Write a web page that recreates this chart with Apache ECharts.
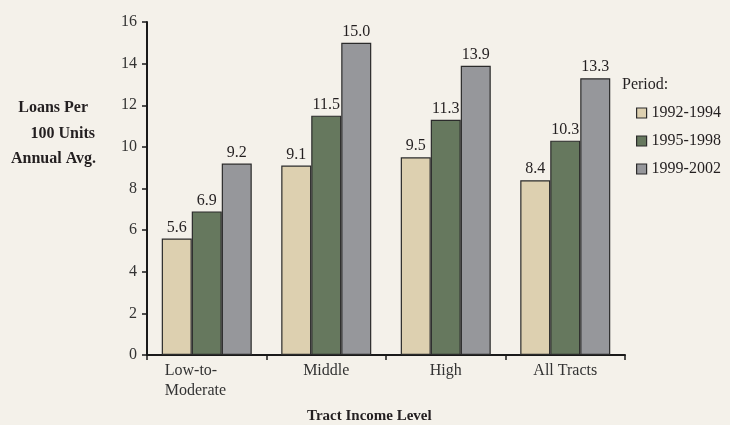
<!DOCTYPE html>
<html>
<head>
<meta charset="utf-8">
<script src="https://cdn.jsdelivr.net/npm/echarts@6/dist/echarts.min.js"></script>
<style>
  html, body { margin: 0; padding: 0; background: #f4f1ea; }
  #main { width: 730px; height: 425px; }
</style>
</head>
<body>
<div id="main"></div>
<script>
var categories = ['Low-to-\nModerate', 'Middle', 'High', 'All Tracts'];
var periods = ['1992-1994', '1995-1998', '1999-2002'];
var p1992 = [5.6, 9.1, 9.5, 8.4];
var p1995 = [6.9, 11.5, 11.3, 10.3];
var p1999 = [9.2, 15.0, 13.9, 13.3];
var colors = ['#ddd0b0', '#66785e', '#96979b'];

var font = '"Liberation Serif", "DejaVu Serif", serif';
var ink = '#231f20';

var chart = echarts.init(document.getElementById('main'), null, { renderer: 'canvas' });

function bar(name, data, color) {
  return {
    name: name,
    type: 'bar',
    data: data,
    barWidth: 30,
    barGap: '0%',
    itemStyle: { color: color, borderColor: '#2b2b2b', borderWidth: 1.2 },
    label: {
      show: true,
      position: 'top',
      distance: 3,
      formatter: function (p) { return p.value.toFixed(1); },
      fontFamily: font,
      fontSize: 16,
      color: ink
    }
  };
}

// y axis title, one line each (right edges)
function yTitle(text, right, top) {
  return {
    type: 'text', right: right, top: top,
    style: { text: text, font: 'bold 16px ' + font, fill: ink }
  };
}

var option = {
  backgroundColor: '#f4f1ea',
  animation: false,
  grid: { left: 147, right: 105, top: 22, bottom: 70 },
  legend: {
    orient: 'vertical',
    left: 631,
    top: 99,
    itemWidth: 10,
    itemHeight: 10,
    itemGap: 10,
    icon: 'rect',
    data: periods,
    textStyle: { fontFamily: font, fontSize: 16, color: ink, lineHeight: 18 },
    itemStyle: { borderColor: '#2b2b2b', borderWidth: 1.2 }
  },
  graphic: [
    {
      type: 'text', left: 622, top: 77,
      style: { text: 'Period:', font: '16px ' + font, fill: ink }
    },
    yTitle('Loans Per', 642, 100),
    yTitle('100 Units', 635, 126),
    yTitle('Annual Avg.', 634, 151),
    {
      type: 'text', left: 307, top: 409,
      style: { text: 'Tract Income Level', font: 'bold 15px ' + font, fill: ink }
    }
  ],
  xAxis: {
    type: 'category',
    data: categories,
    axisLine: { lineStyle: { color: '#1a1a1a', width: 2 } },
    axisTick: { show: true, length: 5, lineStyle: { color: '#1a1a1a', width: 1.5 } },
    axisLabel: {
      fontFamily: font, fontSize: 16, color: '#333', margin: 6, lineHeight: 20,
      formatter: function (v) {
        if (v.indexOf('\n') < 0) return v;
        return v.split('\n').map(function (s) { return '{l|' + s + '}'; }).join('\n');
      },
      rich: {
        l: { fontFamily: font, fontSize: 16, color: '#333', lineHeight: 20, width: 66, align: 'left', padding: [0, 18, 0, 0] }
      }
    }
  },
  yAxis: {
    type: 'value',
    min: 0, max: 16, interval: 2,
    splitLine: { show: false },
    axisLine: { show: true, lineStyle: { color: '#1a1a1a', width: 2 } },
    axisTick: { show: true, length: 5, lineStyle: { color: '#1a1a1a', width: 1.5 } },
    axisLabel: { fontFamily: font, fontSize: 16, color: '#333', margin: 10 }
  },
  series: [
    bar(periods[0], p1992, colors[0]),
    bar(periods[1], p1995, colors[1]),
    bar(periods[2], p1999, colors[2])
  ]
};

chart.setOption(option);
</script>
</body>
</html>
